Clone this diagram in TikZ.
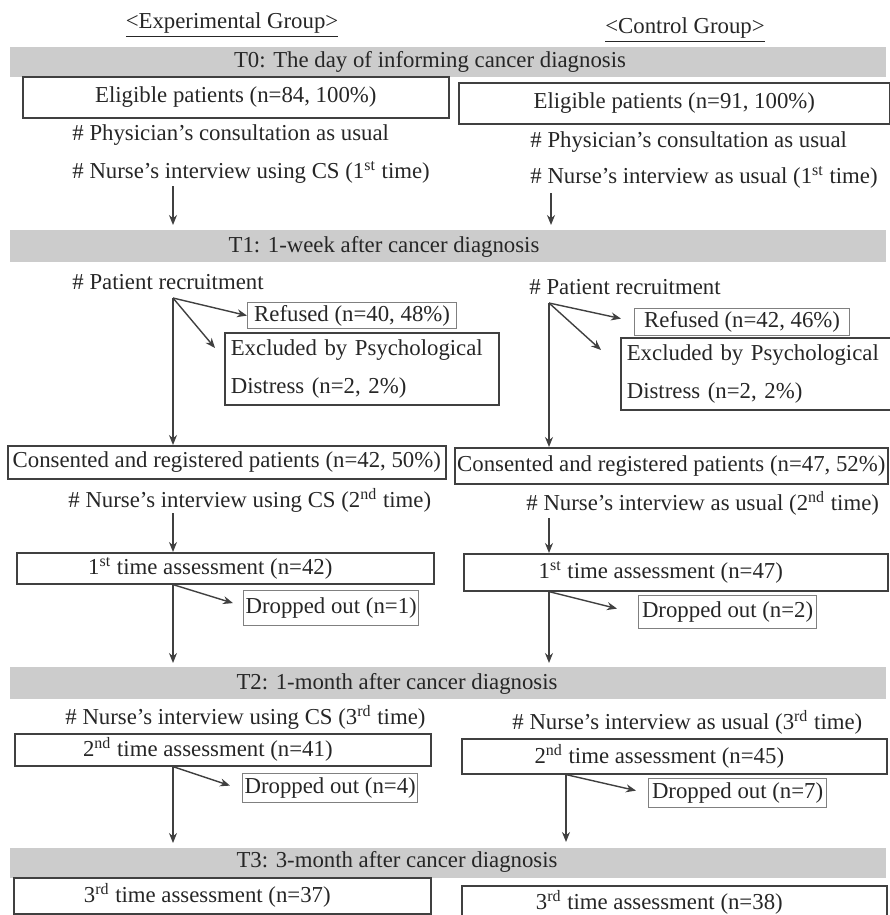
\documentclass[tikz,border=0pt]{standalone}
\usepackage{fontspec}
\setmainfont{Liberation Serif}
\usepackage{tikz}
\usetikzlibrary{arrows.meta}

\tikzset{
  box/.style={draw=black!75, line width=0.8pt, anchor=north west, inner sep=1pt},
  outbox/.style={draw=black!50, line width=0.6pt, anchor=north west, inner sep=1pt},
  exclbox/.style={box, text width=131pt, align=left, inner xsep=3pt, minimum height=36pt},
  band/.style={fill=black!20, anchor=north west, minimum width=438pt, inner sep=0pt},
  note/.style={anchor=west, inner sep=0pt},
  arr/.style={draw=black!75, line width=0.7pt, -{Stealth[length=5pt,width=4pt]}}
}

\begin{document}
\begin{tikzpicture}[x=0.5pt, y=-0.5pt, font=\fontsize{11.4}{19}\selectfont, text=black!85]
\useasboundingbox (0,0) rectangle (889,915);

% group titles
\node (expTitle) at (232,25) {\underline{<Experimental Group>}};
\node (ctrlTitle) at (685,30) {\underline{<Control Group>}};

% time bands
\node[band, minimum height=15pt] (band0) at (10,47) {};
\node[band, minimum height=16pt] (band1) at (10,230) {};
\node[band, minimum height=16pt] (band2) at (10,667) {};
\node[band, minimum height=15pt] (band3) at (10,848) {};
\node (T0) at (430,62) {T0: The day of informing cancer diagnosis};
\node (T1) at (384,247) {T1: 1-week after cancer diagnosis};
\node (T2) at (397,684) {T2: 1-month after cancer diagnosis};
\node (T3) at (397,862) {T3: 3-month after cancer diagnosis};

% T0
\node[box, minimum width=213pt, minimum height=20.5pt] (eligL) at (22,76) {Eligible patients (n=84, 100\%)};
\node[box, minimum width=215.5pt, minimum height=20.5pt] (eligR) at (458,82) {Eligible patients (n=91, 100\%)};
\node[note] (physL) at (72,135) {\# Physician's consultation as usual};
\node[note] (physR) at (530,142) {\# Physician's consultation as usual};
\node[note] (nurse1L) at (72,172) {\# Nurse's interview using CS (1\textsuperscript{st} time)};
\node[note] (nurse1R) at (530,177) {\# Nurse's interview as usual (1\textsuperscript{st} time)};

% T1
\node[note] (recL) at (72,282) {\# Patient recruitment};
\node[note] (recR) at (529,287) {\# Patient recruitment};
\node[outbox, minimum width=104.5pt, minimum height=13pt] (refL) at (247,302) {Refused (n=40, 48\%)};
\node[outbox, minimum width=107.5pt, minimum height=13.5pt] (refR) at (634,308) {Refused (n=42, 46\%)};
\node[exclbox] (exclL) at (224,332) {Excluded by Psychological\\Distress (n=2, 2\%)};
\node[exclbox] (exclR) at (620,337) {Excluded by Psychological\\Distress (n=2, 2\%)};
\node[box, minimum width=219pt, minimum height=16.5pt] (consL) at (7,445) {Consented and registered patients (n=42, 50\%)};
\node[box, minimum width=216.5pt, minimum height=18pt] (consR) at (454,447) {Consented and registered patients (n=47, 52\%)};
\node[note] (nurse2L) at (68,500) {\# Nurse's interview using CS (2\textsuperscript{nd} time)};
\node[note] (nurse2R) at (526,503) {\# Nurse's interview as usual (2\textsuperscript{nd} time)};
\node[box, minimum width=208.5pt, minimum height=15.5pt] (firstL) at (16,552) {1\textsuperscript{st} time assessment (n=42)\hspace*{15pt}};
\node[box, minimum width=212pt, minimum height=18.5pt] (firstR) at (463,553) {1\textsuperscript{st} time assessment (n=47)\hspace*{15pt}};
\node[outbox, minimum width=87pt, minimum height=17.5pt] (dropL1) at (243,590) {Dropped out (n=1)};
\node[outbox, minimum width=89pt, minimum height=16.5pt] (dropR1) at (638,595) {Dropped out (n=2)};

% T2
\node[note] (nurse3L) at (65,717) {\# Nurse's interview using CS (3\textsuperscript{rd} time)};
\node[note] (nurse3R) at (512,722) {\# Nurse's interview as usual (3\textsuperscript{rd} time)};
\node[box, minimum width=208pt, minimum height=16pt] (secondL) at (14,733) {2\textsuperscript{nd} time assessment (n=41)\hspace*{15pt}};
\node[box, minimum width=212.5pt, minimum height=17.5pt] (secondR) at (461,738) {2\textsuperscript{nd} time assessment (n=45)\hspace*{15pt}};
\node[outbox, minimum width=87.5pt, minimum height=14.5pt] (dropL2) at (242,773) {Dropped out (n=4)};
\node[outbox, minimum width=89pt, minimum height=14.5pt] (dropR2) at (648,778) {Dropped out (n=7)};

% T3
\node[box, minimum width=208.5pt, minimum height=18pt] (thirdL) at (13,877) {3\textsuperscript{rd} time assessment (n=37)\hspace*{15pt}};
\node[box, minimum width=212.5pt, minimum height=17pt] (thirdR) at (461,885) {3\textsuperscript{rd} time assessment (n=38)\hspace*{15pt}};

% connectors, experimental group
\coordinate (aL0) at (173,186);
\coordinate (forkL) at (173,298);
\coordinate (n2L) at (173,513);
\draw[arr, shorten >=2.5pt] (aL0) -- (aL0 |- band1.north);
\draw[arr] (forkL) -- (refL.west);
\draw[arr] (forkL) -- ([xshift=-4.5pt,yshift=-8pt]exclL.north west);
\draw[arr] (forkL) -- (forkL |- consL.north);
\draw[arr] (n2L) -- (n2L |- firstL.north);
\draw[arr] (firstL.south -| forkL) -- ([xshift=-5pt,yshift=2.5pt]dropL1.west);
\draw[arr, shorten >=2pt] (firstL.south -| forkL) -- (forkL |- band2.north);
\draw[arr] (secondL.south -| forkL) -- ([xshift=-6pt,yshift=1.25pt]dropL2.west);
\draw[arr, shorten >=2.5pt] (secondL.south -| forkL) -- (forkL |- band3.north);

% connectors, control group
\coordinate (aR0) at (551,193);
\coordinate (forkR) at (549,303);
\coordinate (n2R) at (549,518);
\coordinate (colR2) at (566,773);
\draw[arr, shorten >=2.5pt] (aR0) -- (aR0 |- band1.north);
\draw[arr] (forkR) -- ([xshift=-6.5pt,yshift=1.75pt]refR.west);
\draw[arr] (forkR) -- ([xshift=-9.5pt,yshift=-6.5pt]exclR.north west);
\draw[arr] (forkR) -- (forkR |- consR.north);
\draw[arr] (n2R) -- (n2R |- firstR.north);
\draw[arr] (firstR.south -| forkR) -- ([xshift=-10.5pt,yshift=1.75pt]dropR1.west);
\draw[arr, shorten >=2pt] (firstR.south -| forkR) -- (forkR |- band2.north);
\draw[arr] (secondR.south -| colR2) -- ([xshift=-6pt,yshift=1.25pt]dropR2.west);
\draw[arr, shorten >=3pt] (secondR.south -| colR2) -- (colR2 |- band3.north);
\end{tikzpicture}
\end{document}
